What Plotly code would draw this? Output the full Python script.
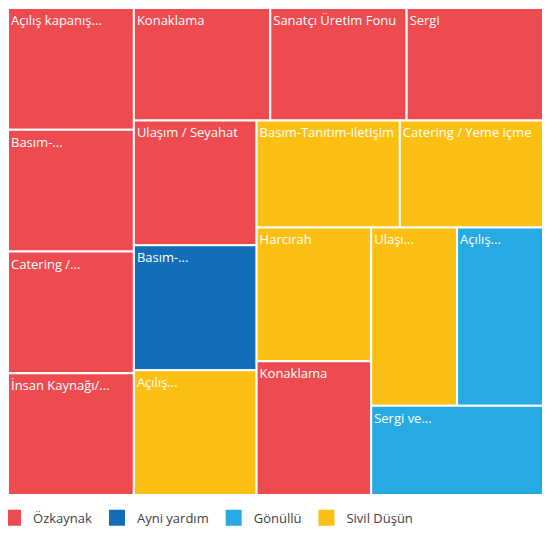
import plotly.graph_objects as go

# each budget line, in the order the treemap lays them out
items = [
    "Açılış kapanış...", "Basım-...", "Catering /...", "İnsan Kaynağı/...",
    "Konaklama", "Sanatçı Üretim Fonu", "Sergi", "Ulaşım / Seyahat",
    "Basım-...", "Açılış...", "Basım-Tanıtım-iletişim", "Catering / Yeme içme",
    "Harcırah", "Konaklama", "Ulaşı...", "Açılış...", "Sergi ve...",
]
sources = [
    "Özkaynak", "Özkaynak", "Özkaynak", "Özkaynak",
    "Özkaynak", "Özkaynak", "Özkaynak", "Özkaynak",
    "Ayni yardım", "Sivil Düşün", "Sivil Düşün", "Sivil Düşün",
    "Sivil Düşün", "Özkaynak", "Sivil Düşün", "Gönüllü", "Gönüllü",
]
values = [1] * 17

source_names = ["Özkaynak", "Ayni yardım", "Gönüllü", "Sivil Düşün"]
source_colors = {
    "Özkaynak": "#ED4B4F",
    "Ayni yardım": "#136DB8",
    "Gönüllü": "#27AAE1",
    "Sivil Düşün": "#FBC013",
}

ids = [f"n{i}" for i in range(len(items))]
colors = [source_colors[s] for s in sources]

fig = go.Figure()
fig.add_trace(go.Treemap(
    ids=ids, labels=items, parents=[""] * len(items), values=values,
    textinfo="label",
    sort=False,
    marker=dict(colors=colors, line=dict(color="white", width=2),
                pad=dict(t=0, l=0, r=0, b=0), depthfade=False),
    tiling=dict(packing="squarify", squarifyratio=1.06, pad=0),
    pathbar=dict(visible=False),
    textposition="top left",
    textfont=dict(family="Open Sans", size=13, color="white"),
    hoverinfo="label",
))

# legend entries for the funding sources
for name in source_names:
    fig.add_trace(go.Scatter(
        x=[None], y=[None], mode="markers", name=name,
        marker=dict(symbol="square", size=16, color=source_colors[name]),
    ))

fig.update_layout(
    width=535, height=519,
    margin=dict(l=0, r=0, t=0, b=32, autoexpand=False),
    paper_bgcolor="white", plot_bgcolor="white",
    xaxis=dict(visible=False), yaxis=dict(visible=False),
    legend=dict(orientation="h", x=-0.028, xanchor="left", y=-0.016, yanchor="top",
                font=dict(family="Open Sans", size=13, color="#404040"),
                itemwidth=30),
)

fig.write_html("out.html")
